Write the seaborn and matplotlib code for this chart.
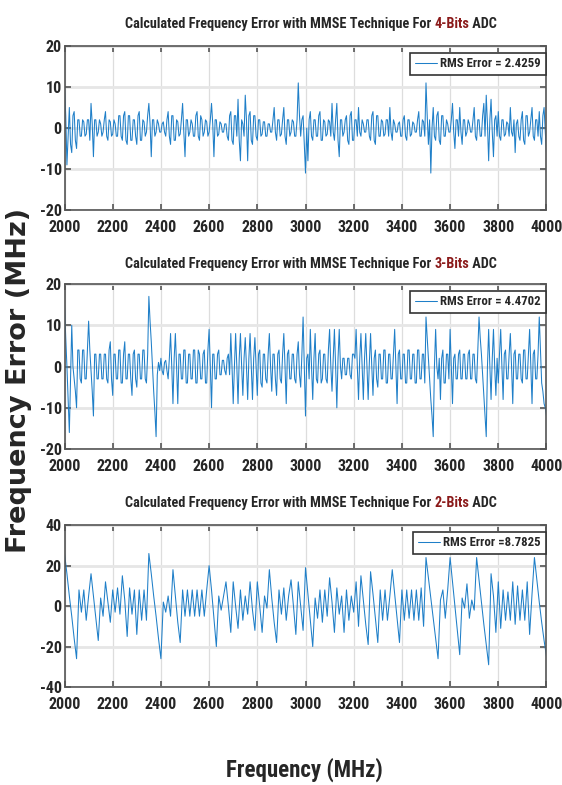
import matplotlib
matplotlib.use("Agg")
import matplotlib.pyplot as plt
import seaborn as sns
import pandas as pd
import numpy as np


# frequency grids (MHz)
freq_fine = np.arange(2000, 4001, 5)     # 4-bit and 3-bit panels
freq_coarse = np.arange(2000, 4001, 10)  # 2-bit panel

# error (5 MHz steps, one row = 100 MHz)
err_4bit = [
    10, 3, -9, -2, 5, -4, -6, 3, 4, -3, -5, 2, 2, -2, -2, 2, 1.5, -2, -1.5, 2,
    2, -3, 6, 1, -7, 2, 2, -2, -1, 2, 1, -2, -1, 2, 4, -2, -3, 2, 1.5, -2,
    -1.5, 2, 1, -2, -2, 3, 3, -2, -3, 3, 4, -3, -4, 3, 3, -3, -3, 2, 2, -2,
    -4, 3, 4, -3, -3, 2, 1.5, -2, -1, 3, 6, 1, -7, 2, 2, -2, -1, 2, 1, -1,
    -1, 1, 1.5, -1, -2, 2, 4, -2, -4, 3, 3, -3, -3, 2, 1.5, -2, -1.5, 2, 6, -1,
    -7, 2, 2, -2, -1, 2, 1, -2, -2, 3, 4, -2, -3, 3, 2, -2, -1, 2, 1.5, -2,
    -1, 2, 6, 1, -7, 2, 2, -2, -1.5, 1.5, 1, -1, -1, 1, 1, -2, -3, 3, 4, -3,
    -4, 3, 3, -2, 7, -3, -8, 2, 1, -2, 8, 2, -8, 3, 4, -3, -4, 3, 3, -2,
    -3, 2, 2, -2, -1.5, 1.5, 1.5, -2, -2, 1, 1, -1, -1, 2, 5, -1, -3, 2, 2, -2,
    -1.5, 2, 5, -2, -4, 2, 2, -2, -1, 2, 1.5, -2, -2, 2, 11, 3, -2, 2, 3, -4,
    -11, 0, -8, 2, 4, -2, -3, 2, 2, -2, -2, 3, 4, -3, -3, 2, 1.5, -2, -1.5, 2,
    1.5, -2, 6, -1, -3, 2, 6, -3, -7, 2, 2, -2, -1, 2, 3, -3, -4, 3, 4, -3,
    -3, 2, 2, -2, 5, -1, -2, 2, 1, -1, -1, 2, 2, -2, -3, 3, 4, -3, -4, 3,
    3, -2, -2, 2, 1.5, -2, -1.5, 2, 2, -2, 5, -1, -3, 2, 1, -1, -1, 1, 1.5, -2,
    -2, 2, 3, -2, -3, 2, 2, -2, -1.5, 1.5, 1, -1, -1, 2, 4, -2, -2, 2, 1.5, -2,
    11, 3, -4, 2, -11, 0, 5, -2, -3, 3, 4, -3, -4, 3, 3, -2, -2, 2, 1, -1,
    -1, 2, 6, -1, -5, 2, 2, -2, 5, -1, -4, 2, 2, -2, -1, 2, 1, -1, -1, 2,
    5, -2, -3, 2, 2, -2, -2, 3, 6, -2, 8, 1, -8, 2, 7, -1, -7, 2, 3, -2,
    4, -2, -3, 2, 2, -2, -1.5, 1.5, 1, -2, 5, -1, -2, 2, -6, 1, 2, -2, -3, 2,
    4, -3, -4, 3, 3, -2, -1, 2, 5, -2, -3, 2, 2, -2, 4, -2, -4, 3, 5, -1,
    -6,
]

# error (5 MHz steps)
err_3bit = [
    15, 7, 0, -8, -16, -3, 10, 0, -3, -6, -10, 4, 4, -3, -4, 4, 4, -3, -3, 4,
    11, 4, -1, -6, -12, 3, 3, -3, -3, 3, 3, -3, -3, 3, 3, -3, -4, 4, 6, -3,
    -7, 3, 3, -3, -3, 4, 4, -4, -4, 3, 6, -3, -3, 3, 3, -3, -7, 3, 4, -3,
    -5, 3, 3, -3, -3, 4, 4, -3, -4, 3, 17, 11, 6, 0, -6, -11, -17, -2, 1, -1,
    2, -1, -2, 1, 1.5, -1, -3, 2, 8, 0, -9, 2, 8, 0, -9, 3, 3, -3, -3, 4,
    4, -4, -4, 3, 3, -3, -3, 4, 4, -4, -4, 4, 3, -3, -3, 3, 4, -4, -4, 4,
    9, 0, -10, 3, 3, -3, -3, 3, 4, -2, -2, 1.5, 1.5, -1, -2, 2, 3, -2, 8, 0,
    -9, 0, 8, 0, -9, 2, 8, 0, -7, 2, 7, 0, -8, 2, 8, 0, -8, 2, 7, 0,
    -7, 3, 4, -4, -5, 3, 3, -3, -4, 3, 8, 0, -6, 3, 3, -3, -7, 3, 4, -3,
    -4, 3, 8, 0, -9, 3, 4, -3, -3, 3, 3, -3, -4, 3, 6, -2, -5, 3, 12, 0,
    -12, 2, 3, -3, 9, 0, -8, 2, 8, -3, -4, 3, 4, -4, -3, 3, 3, -3, -4, 4,
    9, 0, -6, 2, 9, 0, -10, 2, 9, 0, -3, 2, 2, -2, -2, 2, 2, -2, -3, 3,
    3, 2, 9, 0, -8, 2, 8, 0, -8, 2, 8, 0, -8, 1, 8, 0, -7, 2, 4, -3,
    -5, 3, 3, -3, -3, 4, 4, -4, -4, 3, 3, -3, -3, 3, 9, 0, -9, 3, 4, -3,
    -3, 3, 3, -4, -4, 4, 4, -3, -3, 3, 3, -4, -4, 4, 4, -3, -3, 3, 3, -4,
    12, 7, 2, -3, -8, -12, -17, 0, 9, 0, -3, 2, -8, 2, 4, -4, -4, 3, 3, -3,
    9, 0, -9, 2, 3, -3, -3, 3, 4, -3, -3, 3, 3, -3, -3, 3, 4, -3, -3, 3,
    3, -3, -4, 4, 12, 7, 3, -2, -7, -12, -17, 0, 9, 0, -8, 2, 9, 0, -7, 2,
    -4, 3, 9, 0, -8, 3, 4, -3, -3, 3, 8, 0, -9, 3, 4, -3, -3, 3, 3, -3,
    -4, 4, 4, -3, -3, 3, 9, 0, -9, 3, 4, -3, -3, 3, 12, 4, -4, -6, -9, -10,
    -12,
]

# error (10 MHz steps)
err_2bit = [
    26, 16, 5, -5, -16, -26, 8, -3, 8, -7,
    5, 16, 5, -6, -17, 4, -5, 12, 2, -8,
    8, -3, 9, -4, 15, 3, -15, 9, -4, 8,
    -14, 8, -7, 8, -7, 26, 16, 5, -5, -16,
    -26, 2, -3, 5, -5, 18, 5, -8, -18, 8,
    -5, 8, -5, 8, -5, 8, -5, 8, -5, 8,
    20, 8, -6, -20, 5, -2, 5, 12, 0, -13,
    12, 0, -11, 8, -7, 5, -4, 12, -2, -12,
    12, 0, -13, 5, -1, 18, 4, -8, -18, 8,
    -4, 9, -7, 5, 13, 0, -14, 12, 0, -12,
    19, 6, -7, -20, 4, -6, 8, -8, 8, -5,
    14, 2, -13, 9, -4, 5, -13, 8, -7, 5,
    -3, 12, -10, 15, 3, -9, -19, 17, 6, -6,
    -18, 8, -7, 8, -7, 5, 18, 6, -6, -18,
    8, -7, 8, -6, 8, -7, 8, -7, 9, -10,
    24, 14, 4, -6, -16, -26, 3, 8, -6, 8,
    24, 12, 0, -12, -24, 4, -1, 11, -6, 3,
    -2, 24, 13, 2, -9, -19, -29, 16, 5, -13,
    12, -11, 8, -7, 7, -7, 12, -9, 10, -7,
    8, -7, 12, -14, 6, 24, 13, 2, -8, -17,
    -25,
]

bits = ["4-Bits", "3-Bits", "2-Bits"]
rms_labels = ["RMS Error = 2.4259", "RMS Error = 4.4702", "RMS Error =8.7825"]
y_limits = [(-20, 20), (-20, 20), (-40, 40)]
y_ticks = [[-20, -10, 0, 10, 20], [-20, -10, 0, 10, 20], [-40, -20, 0, 20, 40]]
x_ticks = list(range(2000, 4001, 200))

sns.set_style("whitegrid")
narrow = ["Roboto Condensed", "DejaVu Sans"]
plt.rcParams["font.family"] = narrow
plt.rcParams["font.stretch"] = "condensed"
plt.rcParams["font.weight"] = "bold"
plt.rcParams["axes.unicode_minus"] = False

line_color = "#1f7fc8"
bit_color = "#8b1a1a"

fig = plt.figure(figsize=(5.62, 7.85), dpi=100)

# axes boxes in figure fraction [left, bottom, width, height]
boxes = [
    [0.1148, 0.7325, 0.8576, 0.2089],
    [0.1148, 0.4280, 0.8576, 0.2102],
    [0.1148, 0.1248, 0.8576, 0.2062],
]
title_y = [0.9694, 0.6637, 0.3592]
panels = [(freq_fine, err_4bit), (freq_fine, err_3bit), (freq_coarse, err_2bit)]

for i, (fq, err) in enumerate(panels):
    ax = fig.add_axes(boxes[i])
    df = pd.DataFrame({"freq": fq, "err": err})
    sns.lineplot(data=df, x="freq", y="err", ax=ax, color=line_color,
                 linewidth=0.75, label=rms_labels[i], estimator=None)
    ax.set_xlim(2000, 4000)
    ax.set_ylim(*y_limits[i])
    ax.set_xticks(x_ticks)
    ax.set_yticks(y_ticks[i])
    ax.set_xlabel("")
    ax.set_ylabel("")
    ax.grid(True, axis="x", color="#dddddd", linewidth=0.9)
    ax.grid(True, axis="y", color="#e6e6e6", linewidth=2.0)
    for sp in ax.spines.values():
        sp.set_color("#555555")
        sp.set_linewidth(1.2)
    ax.tick_params(axis="both", direction="in", length=4, width=1.2,
                   color="#555555", labelsize=11.5, top=True, right=True,
                   bottom=True, left=True)
    ax.tick_params(axis="x", pad=7)
    ax.tick_params(axis="y", pad=2)
    for lab in ax.get_xticklabels() + ax.get_yticklabels():
        lab.set_fontweight("bold")
    leg = ax.legend(loc="upper right", bbox_to_anchor=(0.998, 0.958),
                    fontsize=9.2, frameon=True, fancybox=False, framealpha=1,
                    edgecolor="#333333", handlelength=1.7, handletextpad=0.3,
                    borderaxespad=0, borderpad=0.35)
    leg.get_frame().set_linewidth(1.2)
    for t in leg.get_texts():
        t.set_fontweight("bold")

    # title in three pieces so the bit count can be coloured
    t1 = fig.text(0.5, title_y[i], "Calculated Frequency Error with MMSE Technique For ",
                  fontsize=10.3, fontweight="bold", ha="left", va="center")
    t2 = fig.text(0, 0, bits[i], fontsize=10.3, fontweight="bold",
                  color=bit_color, ha="left", va="center")
    t3 = fig.text(0, 0, " ADC", fontsize=10.3, fontweight="bold",
                  ha="left", va="center")
    fig.canvas.draw()
    r = fig.canvas.get_renderer()
    w1 = t1.get_window_extent(r).width
    w2 = t2.get_window_extent(r).width
    w3 = t3.get_window_extent(r).width
    W = fig.bbox.width
    x0 = 311 / 562 - (w1 + w2 + w3) / 2 / W
    t1.set_x(x0)
    t2.set_position((x0 + w1 / W, title_y[i]))
    t3.set_position((x0 + (w1 + w2) / W, title_y[i]))

fig.text(0.034, 0.516, "Frequency Error (MHz)", rotation=90, fontsize=19.5,
         fontweight="heavy", family="DejaVu Sans", stretch="normal",
         ha="center", va="center")
fig.text(0.541, 0.019, "Frequency (MHz)", fontsize=16.5, fontweight="bold",
         ha="center", va="center")

fig.savefig("out.png", dpi=100)
